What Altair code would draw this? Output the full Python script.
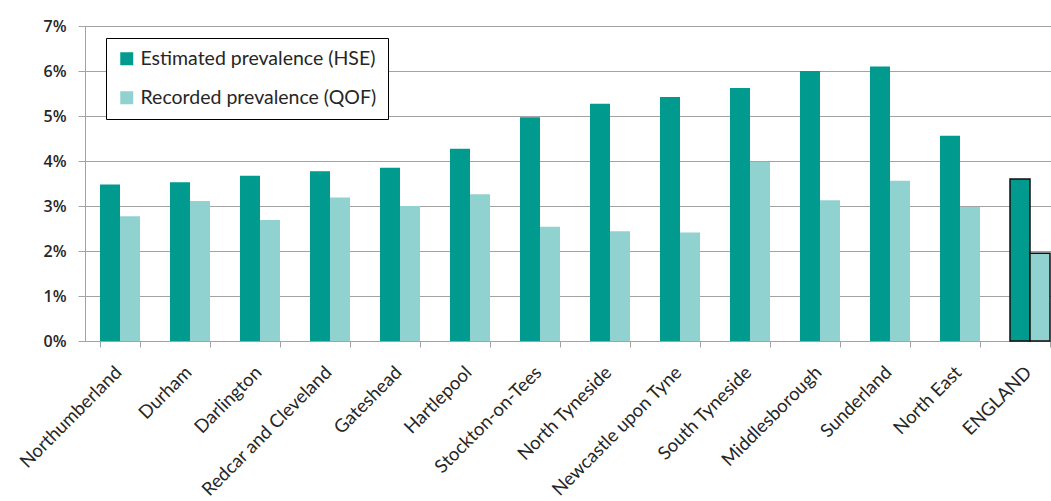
import altair as alt
import pandas as pd

areas = [
    "Northumberland", "Durham", "Darlington", "Redcar and Cleveland",
    "Gateshead", "Hartlepool", "Stockton-on-Tees", "North Tyneside",
    "Newcastle upon Tyne", "South Tyneside", "Middlesborough",
    "Sunderland", "North East", "ENGLAND",
]
hse = [3.48, 3.53, 3.67, 3.77, 3.85, 4.27, 4.97, 5.27, 5.42, 5.62, 6.00, 6.10, 4.56, 3.60]
qof = [2.77, 3.11, 2.69, 3.19, 3.00, 3.26, 2.54, 2.44, 2.41, 3.98, 3.13, 3.56, 2.98, 1.95]

series = ["Estimated prevalence (HSE)", "Recorded prevalence (QOF)"]
colors = ["#009b8e", "#90d2cf"]
y_ticks = [0, 0.01, 0.02, 0.03, 0.04, 0.05, 0.06, 0.07]

rows = []
for a, h, q in zip(areas, hse, qof):
    rows.append({"area": a, "measure": series[0], "value": h / 100})
    rows.append({"area": a, "measure": series[1], "value": q / 100})
df = pd.DataFrame(rows)

font = "Lato"
text_color = "#262626"
grid_color = "#a3a3a3"

chart = alt.Chart(df).mark_bar().encode(
    x=alt.X(
        "area:N",
        sort=areas,
        scale=alt.Scale(range=[0, 980], paddingInner=0.4286, paddingOuter=0.2143),
        axis=alt.Axis(
            title=None,
            labelAngle=-45,
            labelAlign="right",
            labelBaseline="middle",
            labelFont=font,
            labelFontSize=18.5,
            labelColor=text_color,
            labelPadding=22,
            labelOffset=-2,
            labelLimit=400,
            tickBand="extent",
            tickSize=6,
            tickColor=grid_color,
            domainColor=grid_color,
            grid=False,
        ),
    ),
    xOffset=alt.XOffset(
        "measure:N", sort=series, scale=alt.Scale(paddingInner=0, paddingOuter=0)
    ),
    y=alt.Y(
        "value:Q",
        scale=alt.Scale(domain=[0, 0.07], nice=False),
        axis=alt.Axis(
            title=None,
            format=".0%",
            values=y_ticks,
            labelFont="Open Sans",
            labelFontSize=16,
            labelFontWeight=600,
            labelColor=text_color,
            labelPadding=12,
            tickSize=7,
            tickColor=grid_color,
            domainColor=grid_color,
            gridColor=grid_color,
            gridWidth=1.2,
        ),
    ),
    color=alt.Color(
        "measure:N",
        sort=series,
        scale=alt.Scale(domain=series, range=colors),
        legend=alt.Legend(
            title=None,
            orient="none",
            legendX=21,
            legendY=12,
            direction="vertical",
            symbolType="square",
            symbolSize=169,
            symbolStrokeWidth=0,
            labelFont=font,
            labelFontSize=19.5,
            labelColor=text_color,
            labelLimit=400,
            labelOffset=4,
            rowPadding=18,
            padding=11,
            strokeColor="black",
            fillColor="white",
        ),
    ),
    stroke=alt.value("#111111"),
    strokeWidth=alt.condition("datum.area === 'ENGLAND'", alt.value(1.5), alt.value(0)),
).properties(
    width=966,
    height=315,
    autosize=alt.AutoSizeParams(type="none"),
    padding={"left": 85, "top": 26, "right": 0, "bottom": 160},
).configure_view(
    stroke=None
)

chart.save("out.html", embed_options={"renderer": "svg", "actions": False})
